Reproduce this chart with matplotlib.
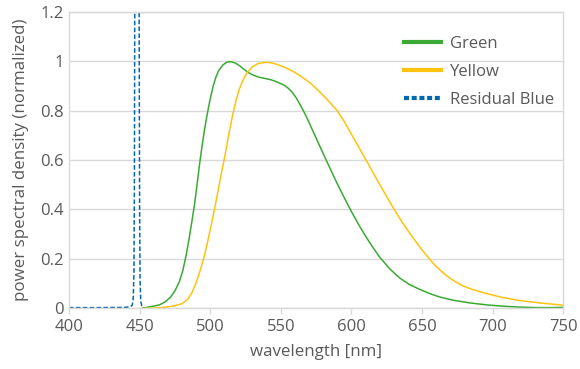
import matplotlib
matplotlib.use("Agg")
import matplotlib.pyplot as plt

# ---- data ----
green_wl = [452, 456, 460, 464, 468, 472, 475, 478, 480.5, 483, 485, 487, 489, 491, 492.5, 494, 496, 498,
            500, 502, 504, 506, 509, 512, 515, 518, 521, 524, 527, 530, 534, 539, 543, 547, 552, 555, 558,
            561, 564, 567, 570, 574, 578, 582, 586, 590, 595, 600, 605, 610, 615, 620, 627, 634, 641, 648,
            655, 662, 672, 684, 696, 707, 720, 731, 740, 750]
green_val = [0.0, 0.004, 0.008, 0.013, 0.025, 0.045, 0.07, 0.105, 0.15, 0.215, 0.28, 0.35, 0.425, 0.515,
             0.585, 0.648, 0.725, 0.79, 0.848, 0.898, 0.936, 0.963, 0.986, 0.998, 0.999, 0.993, 0.982, 0.968,
             0.955, 0.946, 0.937, 0.931, 0.926, 0.918, 0.905, 0.893, 0.876, 0.852, 0.822, 0.789, 0.753, 0.702,
             0.652, 0.602, 0.553, 0.504, 0.447, 0.392, 0.34, 0.292, 0.248, 0.207, 0.16, 0.123, 0.096, 0.077,
             0.06, 0.046, 0.032, 0.021, 0.013, 0.008, 0.004, 0.002, 0.002, 0.003]

yellow_wl = [454, 460, 465, 470, 475, 480, 484, 487, 490, 493, 495.7, 498, 500.5, 503, 505.2, 507.5, 510,
             513.5, 516, 518.2, 520.5, 523, 526, 530, 534, 539.5, 544, 549, 556, 563, 571, 577, 582, 586,
             590, 595, 600, 605, 610, 615, 620, 625, 630, 636, 643, 648, 653, 658, 663, 668, 673, 679, 686,
             695, 707, 719, 735, 750]
yellow_val = [0.0, 0.0, 0.002, 0.005, 0.01, 0.018, 0.035, 0.062, 0.102, 0.155, 0.208, 0.265, 0.33, 0.4,
              0.465, 0.535, 0.605, 0.715, 0.785, 0.84, 0.886, 0.922, 0.954, 0.979, 0.992, 0.997, 0.994, 0.985,
              0.968, 0.945, 0.912, 0.88, 0.851, 0.826, 0.8, 0.756, 0.705, 0.655, 0.604, 0.553, 0.502, 0.452,
              0.403, 0.348, 0.29, 0.251, 0.215, 0.181, 0.153, 0.129, 0.109, 0.09, 0.075, 0.06, 0.043, 0.031,
              0.02, 0.012]

blue_wl = [400, 420, 440, 443.5, 444.8, 445.5, 446.0, 446.3, 446.6, 447.3, 448.1, 449.0, 449.6, 450.0,
           450.3, 450.8, 451.5, 453]
blue_val = [0.002, 0.002, 0.003, 0.006, 0.012, 0.04, 0.15, 0.5, 1.3, 2.4, 2.8, 2.4, 1.3, 0.4, 0.12, 0.03,
            0.01, 0.004]

series_labels = ["Green", "Yellow", "Residual Blue"]
x_ticks = [400, 450, 500, 550, 600, 650, 700, 750]
y_ticks = [0, 0.2, 0.4, 0.6, 0.8, 1, 1.2]
y_ticklabels = ["0", "0.2", "0.4", "0.6", "0.8", "1", "1.2"]

plt.rcParams['font.family'] = ['Open Sans', 'DejaVu Sans']
txt = '#595959'
gridc = '#d9d9d9'

fig = plt.figure(figsize=(5.8, 3.69), dpi=100)
ax = fig.add_axes([0.119, 0.165, 0.852, 0.802])

ax.plot(green_wl, green_val, color='#3aaa35', lw=1.1, label=series_labels[0])
ax.plot(yellow_wl, yellow_val, color='#ffc20e', lw=1.1, label=series_labels[1])
ax.plot(blue_wl, blue_val, color='#0067b1', lw=1.1, ls=(0, (3, 1.5)), label=series_labels[2])

ax.set_xlim(400, 750)
ax.set_ylim(0, 1.2)
ax.set_xticks(x_ticks)
ax.set_yticks(y_ticks)
ax.set_yticklabels(y_ticklabels)
ax.grid(axis='y', color=gridc, lw=1)
ax.set_axisbelow(True)
for s in ['left', 'right', 'bottom', 'top']:
    ax.spines[s].set_color(gridc)
    ax.spines[s].set_linewidth(1)
ax.tick_params(axis='x', colors=gridc, length=4, width=1, labelcolor=txt, labelsize=12, pad=4)
ax.tick_params(axis='y', length=0, labelcolor=txt, labelsize=12, pad=4)
ax.set_xlabel('wavelength [nm]', color=txt, fontsize=12.2, labelpad=6)
ax.set_ylabel('power spectral density (normalized)', color=txt, fontsize=12.2, labelpad=8)

leg = ax.legend(loc='upper right', bbox_to_anchor=(1.012, 0.97), frameon=False, fontsize=12,
                handlelength=2.2, handletextpad=0.55, labelspacing=0.72)
for t in leg.get_texts():
    t.set_color(txt)
leg_lines = leg.get_lines()
for h in leg_lines:
    h.set_linewidth(3)
leg_lines[2].set_linestyle((0, (1.2, 0.65)))

fig.savefig('out.png', dpi=100)
